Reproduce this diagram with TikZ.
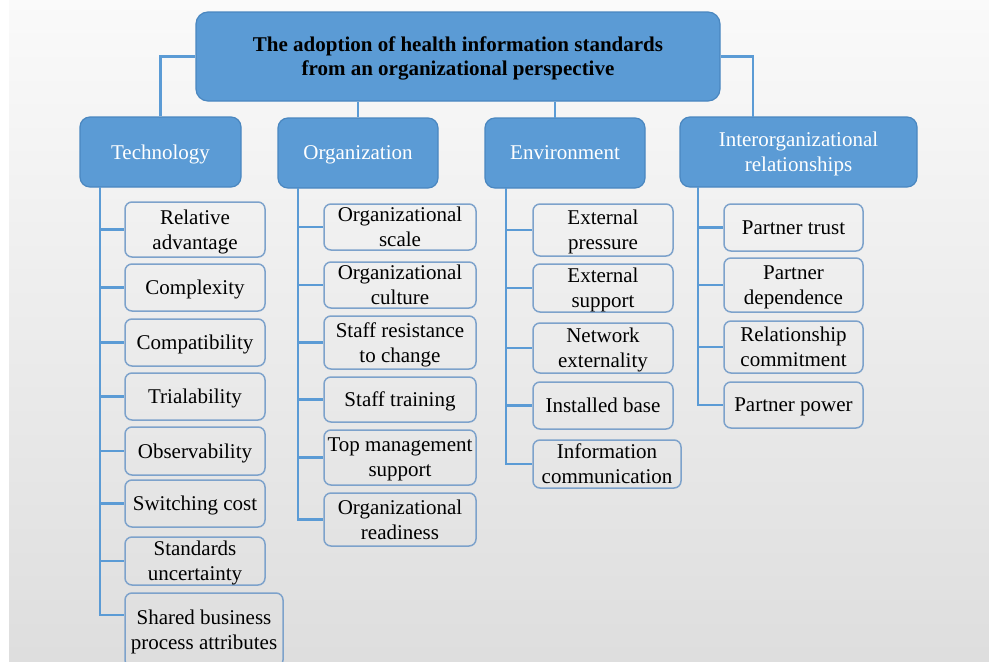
\documentclass[tikz,border=0pt]{standalone}
\usepackage{fontspec}
\setmainfont{Liberation Serif}
\usepackage{xcolor}
\definecolor{hblue}{HTML}{5B9BD5}
\definecolor{hedge}{HTML}{4A87C0}
\definecolor{leafedge}{HTML}{7DA2CB}
\tikzset{topbox/.style={draw=hedge, fill=hblue, rounded corners=12pt, line width=1.2pt,
   align=center, inner sep=0pt, text depth=0pt, font=\fontsize{21}{24}\selectfont\bfseries},
 catbox/.style={draw=hedge, fill=hblue, rounded corners=10pt, line width=1.2pt,
   align=center, inner sep=0pt, text depth=0pt, text=white, font=\fontsize{21}{25}\selectfont},
 leafbox/.style={draw=leafedge, rounded corners=7pt, line width=1.5pt,
   align=center, inner sep=0pt, text depth=0pt, font=\fontsize{21}{25}\selectfont},
 link/.style={draw=hblue, line width=2.6pt},
 }

\begin{document}
\begin{tikzpicture}[x=1pt, y=-1pt]
        \useasboundingbox (0,0) rectangle (989,662);
        \fill[white] (0,0) rectangle (989,662);
        \shade[top color=white!98!black, bottom color=white!87!black] (9,0) rectangle (989,662);

        \node[topbox, minimum width=524pt, minimum height=89pt] (title) at (458,56.5)
            {The adoption of health information standards\\from an organizational perspective};

        \node[catbox, minimum width=161pt, minimum height=70pt] (tech) at (160.5,152) {Technology};
        \node[catbox, minimum width=160pt, minimum height=70pt] (org) at (358,153) {Organization};
        \node[catbox, minimum width=160pt, minimum height=70pt] (env) at (565,153) {Environment};
        \node[catbox, minimum width=237pt, minimum height=70pt] (inter) at (798.5,152)
            {Interorganizational\\relationships};

        \coordinate (ej) at (555,118);
        \coordinate (ij) at (753,117);
        \draw[link] (title.west) -| (tech.north);
        \draw[link] (title.east) -| (ij);
        \draw[link] (org.north) -- (org.north |- title.south);
        \draw[link] (ej) -- (ej |- title.south);

        \node[leafbox, minimum width=140pt, minimum height=55pt] (t1) at (195,229.5) {Relative\\advantage};
        \node[leafbox, minimum width=140pt, minimum height=47pt] (t2) at (195,287.5) {Complexity};
        \node[leafbox, minimum width=140pt, minimum height=47pt] (t3) at (195,342.5) {Compatibility};
        \node[leafbox, minimum width=140pt, minimum height=47pt] (t4) at (195,396.5) {Trialability};
        \node[leafbox, minimum width=140pt, minimum height=48pt] (t5) at (195,451) {Observability};
        \node[leafbox, minimum width=140pt, minimum height=47pt] (t6) at (195,503.5) {Switching cost};
        \node[leafbox, minimum width=140pt, minimum height=48pt] (t7) at (195,561) {Standards\\uncertainty};
        \node[leafbox, minimum width=158pt, minimum height=74pt] (t8) at (204,630)
            {Shared business\\process attributes};

        \node[leafbox, minimum width=152pt, minimum height=46pt] (o1) at (400,227) {Organizational\\scale};
        \node[leafbox, minimum width=152pt, minimum height=46pt] (o2) at (400,285) {Organizational\\culture};
        \node[leafbox, minimum width=152pt, minimum height=53pt] (o3) at (400,342.5) {Staff resistance\\to change};
        \node[leafbox, minimum width=152pt, minimum height=45pt] (o4) at (400,399.5) {Staff training};
        \node[leafbox, minimum width=152pt, minimum height=55pt] (o5) at (400,457.5) {Top management\\support};
        \node[leafbox, minimum width=152pt, minimum height=53pt] (o6) at (400,519.5) {Organizational\\readiness};

        \node[leafbox, minimum width=140pt, minimum height=52pt] (e1) at (603,230) {External\\pressure};
        \node[leafbox, minimum width=140pt, minimum height=48pt] (e2) at (603,288) {External\\support};
        \node[leafbox, minimum width=140pt, minimum height=50pt] (e3) at (603,348) {Network\\externality};
        \node[leafbox, minimum width=140pt, minimum height=47pt] (e4) at (603,405.5) {Installed base};
        \node[leafbox, minimum width=148pt, minimum height=48pt] (e5) at (607,464)
            {Information\\communication};

        \node[leafbox, minimum width=139pt, minimum height=47pt] (r1) at (793.5,227.5) {Partner trust};
        \node[leafbox, minimum width=139pt, minimum height=54pt] (r2) at (793.5,285) {Partner\\dependence};
        \node[leafbox, minimum width=139pt, minimum height=52pt] (r3) at (793.5,347) {Relationship\\commitment};
        \node[leafbox, minimum width=139pt, minimum height=46pt] (r4) at (793.5,405) {Partner power};

        \coordinate (tt) at (100,187);
        \coordinate (ot) at (298,188);
        \coordinate (et) at (506,188);
        \coordinate (it) at (698,187);
        \foreach \n in {t1,t2,t3,t4,t5,t6,t7}
            \draw[link] (tt) |- (\n.west);
        \draw[link] (tt) |- ([yshift=15pt]t8.west);
        \foreach \n in {o1,o2,o3,o4,o5,o6}
            \draw[link] (ot) |- (\n.west);
        \foreach \n in {e1,e2,e3,e4,e5}
            \draw[link] (et) |- (\n.west);
        \foreach \n in {r1,r2,r3,r4}
            \draw[link] (it) |- (\n.west);
    \end{tikzpicture}
\end{document}
